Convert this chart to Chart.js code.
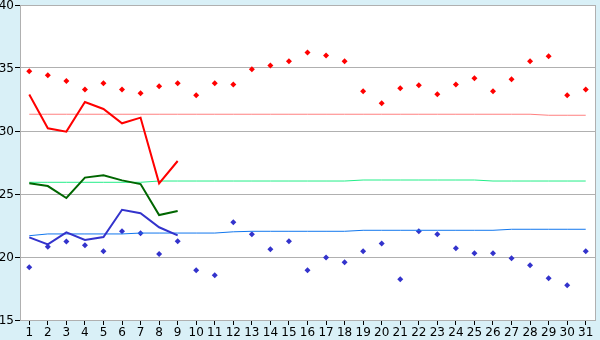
<!DOCTYPE html>
<html>
<head>
    <meta charset="UTF-8">
    <title>temperature chart</title>
    <script src="https://cdn.jsdelivr.net/npm/chart.js@4/dist/chart.umd.min.js" type="text/javascript" charset="utf-8"></script>
    <style>
        html, body { margin: 0; padding: 0; background: #d9f0f7; }
        #chart-area { display: block; }
    </style>
</head>
<body>
<canvas id="chart-area" width="600" height="340"></canvas>
<script type="text/javascript" charset="utf-8">
    var days = [];
    for (var d = 1; d <= 31; d++) days.push(String(d));

    var maxTemp = [34.74, 34.42, 33.97, 33.3, 33.78, 33.3, 32.99, 33.55, 33.78, 32.83,
                   33.78, 33.7, 34.9, 35.2, 35.53, 36.24, 36.0, 35.53, 33.15, 32.2,
                   33.39, 33.63, 32.91, 33.7, 34.18, 33.15, 34.1, 35.53, 35.93, 32.83, 33.3];
    var minTemp = [19.18, 20.82, 21.24, 20.93, 20.45, 22.04, 21.88, 20.24, 21.25, 18.94,
                   18.55, 22.75, 21.8, 20.61, 21.25, 18.94, 19.97, 19.58, 20.45, 21.08,
                   18.23, 22.04, 21.8, 20.69, 20.29, 20.29, 19.9, 19.34, 18.31, 17.75, 20.45];

    var avgMax = [32.89, 30.21, 29.95, 32.3, 31.75, 30.61, 31.06, 25.85, 27.62];
    var avgMean = [25.85, 25.63, 24.68, 26.3, 26.48, 26.08, 25.79, 23.33, 23.65];
    var avgMin = [21.56, 21.0, 21.96, 21.35, 21.59, 23.75, 23.47, 22.36, 21.72];

    var normMax = [31.33, 31.33, 31.33, 31.33, 31.33, 31.33, 31.33, 31.33, 31.33, 31.33,
                   31.33, 31.33, 31.33, 31.33, 31.33, 31.33, 31.33, 31.33, 31.33, 31.33,
                   31.33, 31.33, 31.33, 31.33, 31.33, 31.33, 31.33, 31.33, 31.25, 31.25, 31.25];
    var normMean = [25.93, 25.93, 25.93, 25.93, 25.93, 25.93, 25.93, 26.03, 26.03, 26.03,
                    26.03, 26.03, 26.03, 26.03, 26.03, 26.03, 26.03, 26.03, 26.11, 26.11,
                    26.11, 26.11, 26.11, 26.11, 26.11, 26.03, 26.03, 26.03, 26.03, 26.03, 26.03];
    var normMin = [21.69, 21.83, 21.83, 21.83, 21.83, 21.83, 21.9, 21.9, 21.9, 21.9,
                   21.9, 22.0, 22.04, 22.04, 22.04, 22.04, 22.04, 22.04, 22.12, 22.12,
                   22.12, 22.12, 22.12, 22.12, 22.12, 22.12, 22.2, 22.2, 22.2, 22.2, 22.2];

    var yTicks = [15, 20, 25, 30, 35, 40];

    // white plot area + right border
    var plotBg = {
        id: 'plotBg',
        beforeDraw: function (chart) {
            var c = chart.ctx, a = chart.chartArea;
            c.save();
            c.fillStyle = '#ffffff';
            c.fillRect(a.left, a.top, a.right - a.left, a.bottom - a.top);
            c.restore();
        },
        afterDraw: function (chart) {
            var c = chart.ctx, a = chart.chartArea;
            c.save();
            c.strokeStyle = '#b0b0b0';
            c.lineWidth = 1;
            c.beginPath();
            c.moveTo(a.right + 0.5, a.top);
            c.lineTo(a.right + 0.5, a.bottom);
            c.stroke();
            c.restore();
        }
    };

    function lineSet(data, color, width) {
        return {
            data: data,
            borderColor: color,
            backgroundColor: color,
            borderWidth: width,
            pointRadius: 0,
            fill: false,
            tension: 0,
            spanGaps: false
        };
    }

    function pointSet(data, color) {
        return {
            data: data,
            showLine: false,
            pointStyle: 'rectRot',
            pointRadius: 3,
            pointBorderWidth: 0,
            pointBackgroundColor: color,
            borderColor: color,
            backgroundColor: color
        };
    }

    window.onload = function () {
        Chart.defaults.font.family = 'DejaVu Sans';
        Chart.defaults.font.size = 12;
        Chart.defaults.color = '#000000';

        var config = {
            type: 'line',
            data: {
                labels: days,
                datasets: [
                    lineSet(avgMax, '#ff0000', 2),
                    lineSet(avgMean, '#006600', 2),
                    lineSet(avgMin, '#3333cc', 2),
                    lineSet(normMax, '#ff8080', 1),
                    lineSet(normMean, '#22ee88', 1),
                    lineSet(normMin, '#1177ee', 1),
                    pointSet(maxTemp, '#ff0000'),
                    pointSet(minTemp, '#3333cc')
                ]
            },
            options: {
                responsive: false,
                animation: false,
                layout: { padding: { top: 5, right: 5, left: 0, bottom: 0 } },
                plugins: {
                    legend: { display: false },
                    tooltip: { enabled: false }
                },
                scales: {
                    x: {
                        offset: true,
                        grid: {
                            drawOnChartArea: false,
                            drawTicks: true,
                            tickLength: 5,
                            color: '#000000',
                            offset: false
                        },
                        border: { color: '#b0b0b0' },
                        ticks: { autoSkip: false, maxRotation: 0, padding: 1 },
                        afterFit: function (scale) {
                            scale.height = 20;
                            scale.paddingLeft = 0;
                            scale.paddingRight = 0;
                        }
                    },
                    y: {
                        min: 15,
                        max: 40,
                        afterBuildTicks: function (scale) {
                            scale.ticks = yTicks.map(function (v) { return { value: v }; });
                        },
                        grid: {
                            color: '#b0b0b0',
                            drawTicks: true,
                            tickLength: 5,
                            tickColor: '#000000'
                        },
                        border: { color: '#b0b0b0' },
                        ticks: {
                            padding: 1,
                            labelOffset: 1
                        },
                        afterFit: function (scale) {
                            scale.width = 20;
                            scale.paddingTop = 0;
                            scale.paddingBottom = 0;
                        }
                    }
                }
            },
            plugins: [plotBg]
        };

        var ctx = document.getElementById("chart-area").getContext("2d");
        window.myChart = new Chart(ctx, config);
    };
</script>
</body>
</html>
